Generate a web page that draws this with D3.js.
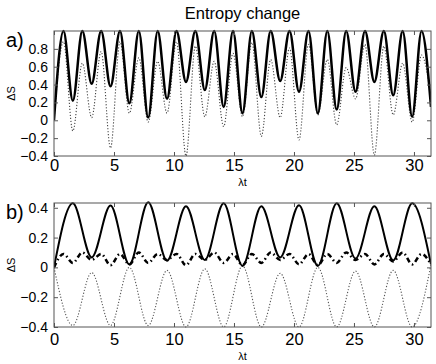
<!DOCTYPE html>
<html><head><meta charset="utf-8">
<script src="https://cdn.jsdelivr.net/npm/d3@7"></script>
<style>
html,body{margin:0;padding:0;background:#fff;}
svg{display:block;font-family:"Liberation Sans",Arial,Helvetica,sans-serif;}
</style></head>
<body>
<svg id="chart" width="436" height="364"></svg>
<script>
// ---------- data ----------
const title = "Entropy change";
const xTicks = [0, 5, 10, 15, 20, 25, 30];
const yTicksA = [-0.4, -0.2, 0, 0.2, 0.4, 0.6, 0.8];
const yTicksB = [-0.4, -0.2, 0, 0.2, 0.4];

// sample positions (λt) at quarter periods
const xQuarter = [0,0.79,1.57,2.36,3.14,3.93,4.71,5.5,6.28,7.07,7.85,8.64,9.42,10.21,11,11.78,12.57,13.35,14.14,14.92,15.71,16.49,17.28,18.06,18.85,19.63,20.42,21.21,21.99,22.78,23.56,24.35,25.13,25.92,26.7,27.49,28.27,29.06,29.85,30.63,31.42];
const xHalf = [0,1.57,3.14,4.71,6.28,7.85,9.42,11,12.57,14.14,15.71,17.28,18.85,20.42,21.99,23.56,25.13,26.7,28.27,29.85,31.42];

// panel a)
const aSolid = [0,1,0.22,1,0.41,1,0.38,1,0.19,1,0.03,1,0.24,1,0.43,1,0.34,1,0.15,1,0.08,1,0.26,1,0.44,1,0.32,1,0.08,1,0.12,1,0.32,1,0.43,1,0.28,1,0.04,1,0.15];
const aDotted = [0,0.88,-0.12,0.64,0.03,0.77,-0.31,0.88,0.08,0.70,-0.02,0.66,0.08,0.88,-0.40,0.83,0.04,0.66,-0.07,0.75,0.04,0.87,-0.18,0.68,0.03,0.81,-0.22,0.85,0.06,0.68,-0.05,0.59,0.24,0.85,-0.39,0.83,0.06,0.64,-0.02,0.73,0.25];

// panel b)
const bSolid = [0,0.43,0.067,0.415,0.02,0.437,0.045,0.41,0.05,0.43,0.01,0.41,0.067,0.417,0.01,0.43,0.06,0.41,0.047,0.43,0.02];
const bDotted = [0,-0.39,-0.035,-0.39,0.0,-0.39,-0.02,-0.40,-0.01,-0.40,0.01,-0.40,-0.04,-0.40,0.0,-0.40,-0.025,-0.40,-0.02,-0.40,0.02];
const bDashDot = [0,0.09,0.03,0.10,0.05,0.09,0.015,0.09,0.02,0.10,0.03,0.09,0.05,0.09,0.015,0.09,0.05,0.10,0.03,0.09,0.015,0.09,0.03,0.10,0.05,0.09,0.02,0.09,0.015,0.09,0.03,0.10,0.05,0.09,0.02,0.09,0.04,0.10,0.02,0.09,0.02];

// ---------- drawing ----------
const svg = d3.select("#chart");
const L = 54, R = 431;
const x = d3.scaleLinear().domain([0, 31.42]).range([L, R]);

svg.append("text").attr("x", (L + R) / 2).attr("y", 19)
  .attr("text-anchor", "middle").attr("font-size", 16.5).attr("fill", "#000").text(title);

function panel(top, bottom, yDomain, yTicks, label, series, xPad, xlabY) {
  const y = d3.scaleLinear().domain(yDomain).range([bottom, top]);
  const g = svg.append("g");
  const clipId = "clip" + label.replace(/\W/g, "");
  svg.append("clipPath").attr("id", clipId).append("rect")
    .attr("x", L).attr("y", top - 2).attr("width", R - L).attr("height", bottom - top + 4);

  series.forEach(s => {
    const line = d3.line().x((d, i) => x(s.x[i])).y(d => y(d)).curve(d3.curveMonotoneX);
    g.append("path").attr("d", line(s.y)).attr("fill", "none")
      .attr("stroke", s.color).attr("stroke-width", s.width)
      .attr("stroke-dasharray", s.dash || null)
      .attr("clip-path", `url(#${clipId})`);
  });

  // box
  g.append("rect").attr("x", L).attr("y", top).attr("width", R - L).attr("height", bottom - top)
    .attr("fill", "none").attr("stroke", "#555").attr("stroke-width", 1);

  // axes with inward ticks
  const axL = d3.axisLeft(y).tickValues(yTicks).tickSize(-4).tickPadding(6)
    .tickFormat(d => d3.format("")(d).replace("-", "\u2212"));
  const gL = g.append("g").attr("transform", `translate(${L},0)`).call(axL);
  const axR = d3.axisRight(y).tickValues(yTicks).tickSize(-4).tickFormat("");
  const gR = g.append("g").attr("transform", `translate(${R},0)`).call(axR);
  const axB = d3.axisBottom(x).tickValues(xTicks).tickSize(-4).tickPadding(xPad);
  const gB = g.append("g").attr("transform", `translate(0,${bottom})`).call(axB);
  const axT = d3.axisTop(x).tickValues(xTicks).tickSize(-4).tickFormat("");
  const gT = g.append("g").attr("transform", `translate(0,${top})`).call(axT);
  [gL, gR, gB, gT].forEach(a => {
    a.select(".domain").remove();
    a.selectAll(".tick line").attr("stroke", "#555");
    a.selectAll("text").attr("fill", "#000").attr("font-family", '"Liberation Sans",Arial,sans-serif');
  });
  gL.selectAll("text").attr("font-size", 14);
  gB.selectAll("text").attr("font-size", 16.5).attr("dy", "0.75em");

  // axis labels
  svg.append("text").attr("x", (L + R) / 2).attr("y", xlabY)
    .attr("text-anchor", "middle").attr("font-size", 11).attr("fill", "#000").text("\u03bbt");
  svg.append("text").attr("transform", `translate(15,${(top + bottom) / 2}) rotate(-90)`)
    .attr("text-anchor", "middle").attr("font-size", 11).attr("fill", "#000").text("\u0394S");
  svg.append("text").attr("x", 6).attr("y", top + 16)
    .attr("font-size", 20).attr("fill", "#000").text(label);
}

panel(31, 156, [-0.4, 1.0], yTicksA, "a)", [
  { x: xQuarter, y: aDotted, color: "#444", width: 1.1, dash: "1.2,1.8" },
  { x: xQuarter, y: aSolid, color: "#000", width: 2.5 }
], 3, 186);
panel(203, 327, [-0.4, 0.432], yTicksB, "b)", [
  { x: xHalf, y: bDotted, color: "#555", width: 1.1, dash: "1.2,1.8" },
  { x: xQuarter, y: bDashDot, color: "#000", width: 2.5, dash: "5,3,1.5,3" },
  { x: xHalf, y: bSolid, color: "#000", width: 2 }
], 6, 360);
</script>
</body></html>
